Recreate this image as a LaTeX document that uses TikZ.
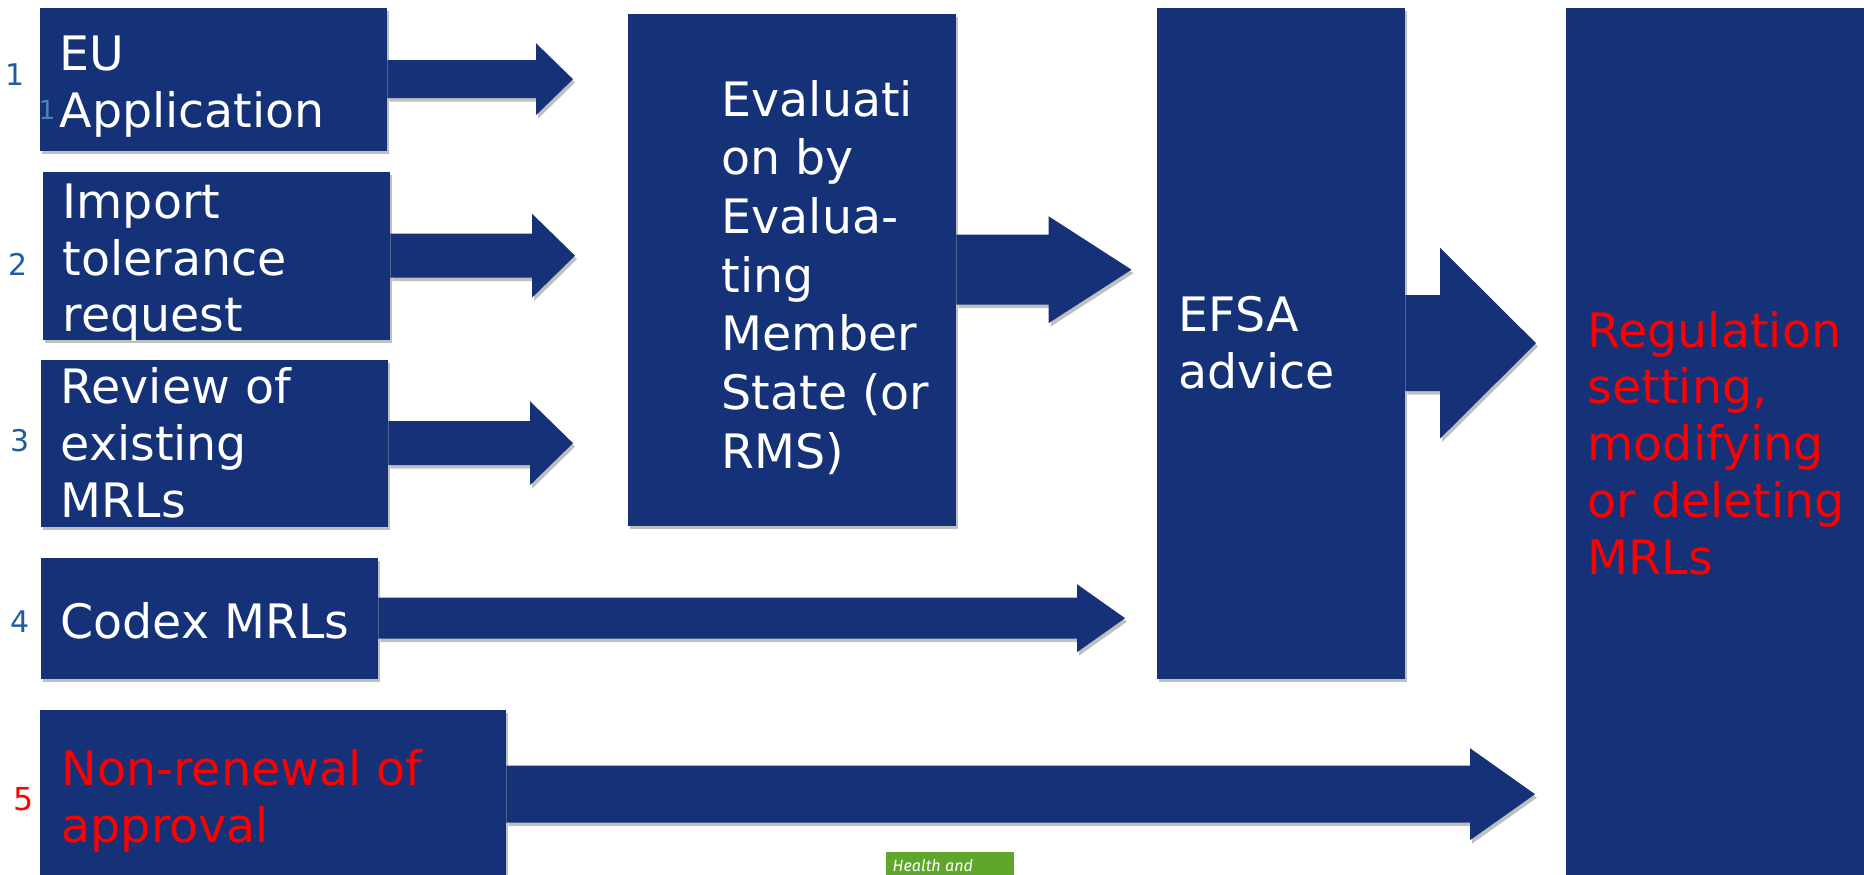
\documentclass[tikz,border=0pt]{standalone}
\usepackage{fontspec}
\setmainfont{DejaVu Sans}
\newfontfamily\dgfont{Fira Sans}
\usepackage{tikz}
\usepackage{xcolor}
\usetikzlibrary{calc, positioning, shadows}

\definecolor{efsablue}{RGB}{21,49,120}
\definecolor{numblue}{RGB}{31,92,158}
\definecolor{numteal}{RGB}{72,132,178}
\definecolor{dggreen}{RGB}{94,166,44}

% block arrow: start, tip, shaft half width, head half width, head length
\newcommand{\blockarrow}[5]{%
  \fill[efsablue, softshadow] let \p1=(#1), \p2=(#2) in
    (\x1,\y1+#3) -- (\x2-#5,\y1+#3) -- (\x2-#5,\y1+#4) -- (\x2,\y1)
    -- (\x2-#5,\y1-#4) -- (\x2-#5,\y1-#3) -- (\x1,\y1-#3) -- cycle;
}

\begin{document}
\begin{tikzpicture}[
  softshadow/.style={drop shadow={shadow xshift=0.02cm, shadow yshift=-0.035cm, opacity=0.25, fill=black}},
  stagebox/.style={fill=efsablue, softshadow, inner sep=0, anchor=north west},
  stagetext/.style={text=white, align=left, inner sep=0, font=\fontsize{13.5}{16.2}\selectfont},
  redtext/.style={stagetext, text=red},
  numlabel/.style={text=numblue, inner sep=0, font=\fontsize{8.5}{10}\selectfont},
]
\useasboundingbox (0,0) rectangle (18.64,8.75);
\clip (0,0) rectangle (18.64,8.75);

% Eingaenge links
\node[stagebox, minimum width=3.47cm, minimum height=1.43cm] (eu) at (0.39,8.68) {};
\node[stagebox, minimum width=3.47cm, minimum height=1.68cm] (imp) at (0.42,7.04) {};
\node[stagebox, minimum width=3.47cm, minimum height=1.67cm] (rev) at (0.40,5.16) {};
\node[stagebox, minimum width=3.37cm, minimum height=1.21cm] (codex) at (0.40,3.18) {};
\node[stagebox, minimum width=4.66cm, minimum height=1.69cm] (nonren) at (0.39,1.66) {};

% Bewertung, EFSA, Verordnung
\node[stagebox, minimum width=3.28cm, minimum height=5.12cm] (eval) at (6.27,8.62) {};
\node[stagebox, minimum width=2.48cm, minimum height=6.71cm] (efsa) at (11.56,8.68) {};
\node[stagebox, minimum width=3.35cm, minimum height=8.93cm] (reg) at (15.65,8.68) {};

% Texte
\node[stagetext, right=0.2 of eu.west, yshift=-0.075cm] (eutext) {EU\\Application};
\node[stagetext, right=0.2 of imp.west, yshift=-0.07cm] (imptext) {Import\\tolerance\\request};
\node[stagetext, right=0.2 of rev.west] (revtext) {Review of\\existing\\MRLs};
\node[stagetext, right=0.2 of codex.west, yshift=-0.025cm] (codextext) {Codex MRLs};
\node[redtext, right=0.22 of nonren.west, yshift=-0.065cm] (nonrentext) {Non-renewal of\\approval};
\node[stagetext, font=\fontsize{13.5}{16.7}\selectfont, right=0.94 of eval.west, yshift=-0.075cm] (evaltext) {Evaluati\\on by\\Evalua-\\ting\\Member\\State (or\\RMS)};
\node[stagetext, right=0.22 of efsa.west] (efsatext) {EFSA\\advice};
\node[redtext, right=0.22 of reg.west, yshift=0.11cm] (regtext) {Regulation\\setting,\\modifying\\or deleting\\MRLs};

% Nummern
\node[numlabel] (n1) at (0.15,8.00) {1};
\node[numlabel, text=numteal, font=\fontsize{7.5}{9}\selectfont] (n1b) at (0.47,7.65) {1};
\node[numlabel] (n2) at (0.18,6.11) {2};
\node[numlabel] (n3) at (0.20,4.34) {3};
\node[numlabel] (n4) at (0.20,2.53) {4};
\node[numlabel, text=red, font=\fontsize{9}{10}\selectfont] (n5) at (0.24,0.76) {5};

% Pfeile
\blockarrow{eu.east}{[xshift=-0.54cm]eval.west}{0.19cm}{0.36cm}{0.37cm}
\blockarrow{imp.east}{[xshift=-0.52cm]eval.west}{0.22cm}{0.42cm}{0.43cm}
\blockarrow{rev.east}{[xshift=-0.54cm]eval.west}{0.22cm}{0.42cm}{0.43cm}
\blockarrow{eval.east}{[xshift=-0.245cm]efsa.west}{0.35cm}{0.535cm}{0.83cm}
\blockarrow{codex.east}{[xshift=-0.31cm]efsa.west}{0.205cm}{0.34cm}{0.48cm}
\blockarrow{efsa.east}{[xshift=-0.29cm]reg.west}{0.48cm}{0.955cm}{0.96cm}
\blockarrow{nonren.east}{[xshift=-0.30cm]reg.west}{0.285cm}{0.46cm}{0.65cm}

% Fusszeile
\node[fill=dggreen, inner sep=0, anchor=north west, minimum width=1.28cm, minimum height=0.4cm] (dg) at (8.85,0.24) {};
\node[text=white, inner sep=0, anchor=base west, font=\dgfont\itshape\fontsize{4.6}{5}\selectfont] (dgtext) at (8.92,0.03) {Health and};

\end{tikzpicture}
\end{document}
